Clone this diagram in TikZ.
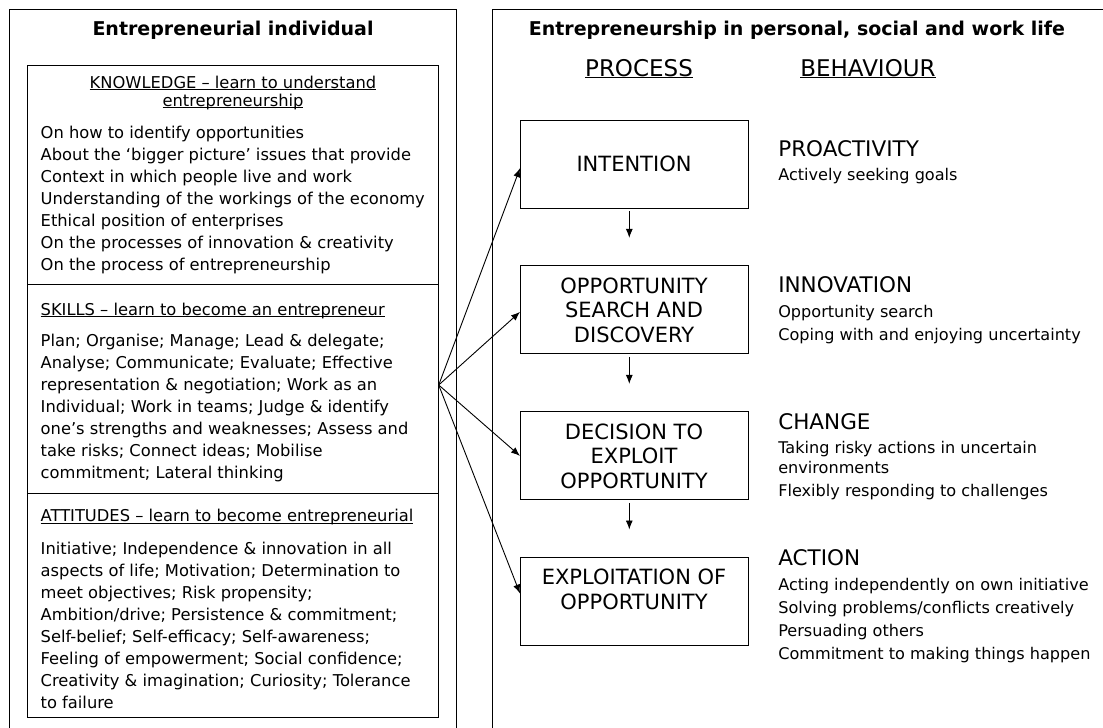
\documentclass[tikz,border=0pt]{standalone}
\usepackage{fontspec}
\setmainfont{DejaVu Sans}
\usetikzlibrary{arrows.meta,calc}
\newcommand\myul[1]{\setbox0=\hbox{#1}\rlap{\rule[-1.8pt]{\wd0}{0.9pt}}\box0}
\begin{document}
\begin{tikzpicture}[x=1pt,y=-1pt,
  every node/.style={inner sep=0pt, outer sep=0pt},
  frame/.style={draw, line width=0.9pt},
  body/.style={font=\fontsize{16.3}{22}\selectfont, anchor=base west, align=left},
  ttl/.style={font=\fontsize{19}{23}\selectfont\bfseries, anchor=base},
  colhead/.style={font=\fontsize{23}{27}\selectfont, anchor=base},
  pbox/.style={draw, line width=0.9pt, minimum width=228pt, minimum height=88pt, align=center, font=\fontsize{21}{24.5}\selectfont},
  bhead/.style={font=\fontsize{21.5}{26}\selectfont, anchor=base west},
  bitem/.style={font=\fontsize{16.1}{23}\selectfont, anchor=base west, align=left},
  arr/.style={-{Latex[length=9pt,width=7pt]}, line width=0.9pt}
]
\useasboundingbox (0,0) rectangle (1103,728);
\clip (0,0) rectangle (1103,728);
% frames
\draw[frame] (9.3,9.3) rectangle (456.7,760);
\draw[frame] (492.7,9.3) rectangle (1130,760);
\draw[frame] (27.7,65.7) rectangle (438.7,717.3);
\draw[frame] (27.7,284.3) -- (438.7,284.3);
\draw[frame] (27.7,493.3) -- (438.7,493.3);
\coordinate (fan) at (438.7,385);
% titles
\node[ttl] (t1) at (233,35) {Entrepreneurial individual};
\node[ttl] (t2) at (797,35) {Entrepreneurship in personal, social and work life};
% left column (multi-line nodes are placed at the baseline of their last line)
\node[body, anchor=base, align=center] (kh) at (233,106) {\myul{KNOWLEDGE – learn to understand}\\[-4.3pt]\myul{entrepreneurship}};
\node[body] (ki) at (40.7,270.7) {On how to identify opportunities\\About the ‘bigger picture’ issues that provide\\Context in which people live and work\\Understanding of the workings of the economy\\Ethical position of enterprises\\On the processes of innovation \& creativity\\On the process of entrepreneurship};
\node[body] (sh) at (40.7,315) {\myul{SKILLS – learn to become an entrepreneur}};
\node[body] (si) at (40.7,478.3) {Plan; Organise; Manage; Lead \& delegate;\\Analyse; Communicate; Evaluate; Effective\\representation \& negotiation; Work as an\\Individual; Work in teams; Judge \& identify\\one’s strengths and weaknesses; Assess and\\take risks; Connect ideas; Mobilise\\commitment; Lateral thinking};
\node[body] (ah) at (40.7,521.7) {\myul{ATTITUDES – learn to become entrepreneurial}};
\node[body] (ai) at (40.7,708.3) {Initiative; Independence \& innovation in all\\aspects of life; Motivation; Determination to\\meet objectives; Risk propensity;\\Ambition/drive; Persistence \& commitment;\\Self-belief; Self-efficacy; Self-awareness;\\Feeling of empowerment; Social confidence;\\Creativity \& imagination; Curiosity; Tolerance\\to failure};
% right column headings
\node[colhead] (ph) at (639,76) {\myul{PROCESS}};
\node[colhead] (bh) at (868,76) {\myul{BEHAVIOUR}};
% process boxes
\node[pbox] (b1) at (634,164.2) {INTENTION};
\node[pbox] (b2) at (634,309.9) {OPPORTUNITY\\SEARCH AND\\DISCOVERY};
\node[pbox] (b3) at (634,455.9) {DECISION TO\\EXPLOIT\\OPPORTUNITY};
\node[pbox] (b4) at (634,601.5) {EXPLOITATION OF\\OPPORTUNITY\\\mbox{}};
% down arrows
\draw[arr] ([xshift=-4.7pt,yshift=-3pt]b1.south) -- ([xshift=-4.7pt,yshift=28pt]b2.north);
\draw[arr] ([xshift=-4.7pt,yshift=-3pt]b2.south) -- ([xshift=-4.7pt,yshift=28pt]b3.north);
\draw[arr] ([xshift=-4.7pt,yshift=-3pt]b3.south) -- ([xshift=-4.7pt,yshift=28pt]b4.north);
% fan arrows
\draw[arr] (fan) -- ([yshift=-4pt]b1.west);
\draw[arr] (fan) -- ([yshift=-2pt]b2.west);
\draw[arr] (fan) -- (b3.west);
\draw[arr] (fan) -- ([yshift=8pt]b4.west);
% behaviours
\node[bhead] (h1) at (778.3,156) {PROACTIVITY};
\node[bitem] (i1) at (778.3,180) {Actively seeking goals};
\node[bhead] (h2) at (778.3,292.7) {INNOVATION};
\node[bitem] (i2) at (778.3,340.7) {Opportunity search\\Coping with and enjoying uncertainty};
\node[bhead] (h3) at (778.3,429.3) {CHANGE};
\node[bitem] (i3) at (778.3,496) {Taking risky actions in uncertain\\[-3pt]environments\\Flexibly responding to challenges};
\node[bhead] (h4) at (778.3,565.7) {ACTION};
\node[bitem] (i4) at (778.3,659) {Acting independently on own initiative\\Solving problems/conflicts creatively\\Persuading others\\Commitment to making things happen};
\end{tikzpicture}
\end{document}
